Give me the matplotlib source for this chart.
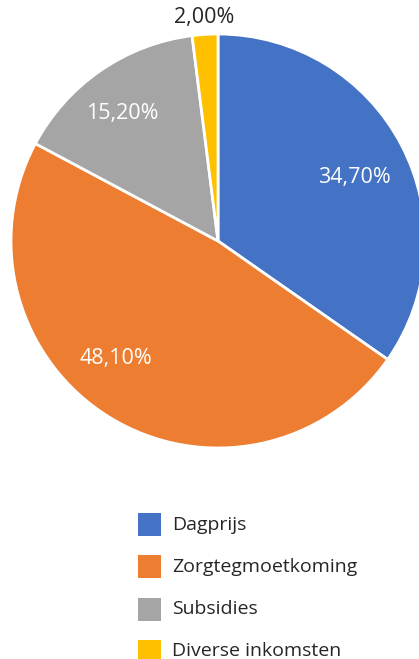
import matplotlib
matplotlib.use("Agg")
import matplotlib.pyplot as plt
from matplotlib.patches import Rectangle
import numpy as np

categories = ["Dagprijs", "Zorgtegmoetkoming", "Subsidies", "Diverse inkomsten"]
values = [34.7, 48.1, 15.2, 2.0]
labels = ["34,70%", "48,10%", "15,20%", "2,00%"]
colors = ["#4472C4", "#ED7D31", "#A5A5A5", "#FFC000"]

W, H = 419, 659
fig = plt.figure(figsize=(W / 100, H / 100), dpi=100)
ax = fig.add_axes([0, 0, 1, 1])

cx, cy, r = 218, H - 241, 207
wedges, _ = ax.pie(values, colors=colors, startangle=90, counterclock=False,
                   center=(cx, cy), radius=r,
                   wedgeprops=dict(edgecolor="white", linewidth=2))
ax.set_xlim(0, W)
ax.set_ylim(0, H)
ax.set_aspect("equal")
ax.axis("off")

# label placement (angle offset in degrees, distance as fraction of radius)
label_pos = [(-2.5, 0.73), (-9.5, 0.75), (2.5, 0.77), (0.0, 1.08)]
label_col = ["white", "white", "white", "#262626"]
for w, lab, (da, dist), col in zip(wedges, labels, label_pos, label_col):
    ang = np.deg2rad((w.theta1 + w.theta2) / 2 + da)
    ax.text(cx + dist * r * np.cos(ang), cy + dist * r * np.sin(ang), lab,
            ha="center", va="center", fontsize=15.5, color=col,
            family="Open Sans")

# legend
x0, y0, pitch, sq = 138, H - 536, 42.3, 23
for i, (cat, col) in enumerate(zip(categories, colors)):
    y = y0 - i * pitch
    ax.add_patch(Rectangle((x0, y), sq, sq, facecolor=col, edgecolor="none"))
    ax.text(x0 + 34, y + sq / 2, cat, ha="left", va="center", fontsize=14,
            color="#262626", family="Open Sans")

fig.savefig("out.png", dpi=100)
